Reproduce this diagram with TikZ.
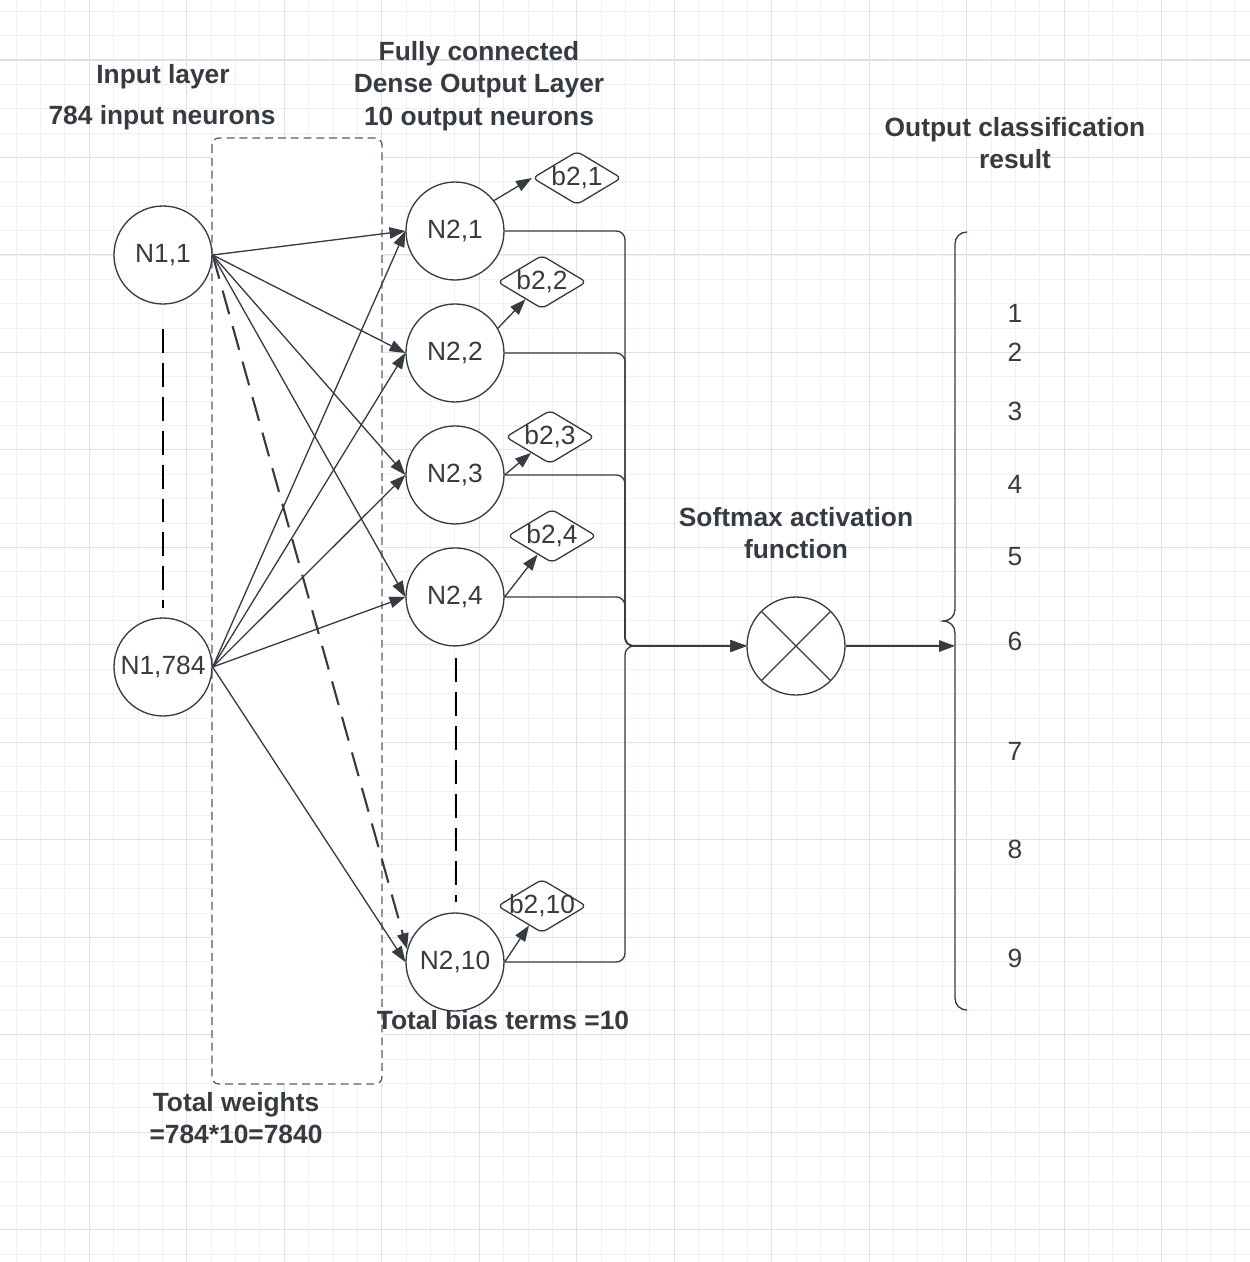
\documentclass[tikz,border=0pt]{standalone}
\usepackage{fontspec}
\setmainfont{Liberation Sans}
\usetikzlibrary{arrows.meta, shapes.geometric}

\definecolor{ink}{RGB}{54,59,66}
\definecolor{gridminor}{RGB}{240,240,240}
\definecolor{gridmajor}{RGB}{224,224,224}
\definecolor{boxgray}{RGB}{88,93,100}

\begin{document}
\begin{tikzpicture}[
            x = 0.02cm, y = -0.02cm, % one unit is one pixel
            > = {Triangle[length=9pt, width=6.5pt]}, % arrow head style
            line width = 0.75pt,
            color = ink,
            font = \fontsize{15}{18.4}\selectfont,
            node distance = 2.44cm % distance between output neurons
        ]

        \tikzstyle{neuron}=[
            circle,
            draw = ink,
            fill = white,
            minimum size = 1.96cm,
            inner sep = 0pt
        ]
        \tikzstyle{bias}=[
            diamond,
            draw = ink,
            fill = white,
            rounded corners = 3pt,
            minimum width = 1.78cm,
            minimum height = 1.07cm,
            inner sep = 0pt
        ]
        \tikzstyle{heading}=[font=\fontsize{15}{18.4}\selectfont\bfseries, align=center]
        \tikzstyle{gapline}=[black, line width=1.6pt, dash pattern=on 13.6pt off 5.7pt]
        \tikzstyle{dashlink}=[line width=1.2pt, dash pattern=on 14pt off 7pt]

        % page and grid
        \useasboundingbox (0,0) rectangle (1250,1262);
        \fill[white] (0,0) rectangle (1250,1262);
        \begin{scope}
            \clip (0,0) rectangle (1250,1262);
            \begin{scope}[shift={(-8.2,-37.5)}]
                \draw[gridminor, line width=0.5pt, step=0.4875cm] (0,1320) grid (1300,0);
                \draw[gridmajor, line width=0.6pt, step=1.95cm] (0,1320) grid (1300,0);
            \end{scope}
        \end{scope}

        % weights box
        \draw[boxgray, fill=white, line width=0.75pt, dash pattern=on 4.5pt off 2.8pt, rounded corners=4pt]
            (212,138) rectangle (382,1084);

        % labels
        \node[heading] (inlabel) at (163,77) {Input layer};
        \node[heading] (incount) at (162,118) {784 input neurons};
        \node[heading] (outlabel) at (479,86) {Fully connected\\Dense Output Layer\\10 output neurons};
        \node[heading] (reslabel) at (1015,143) {Output classification\\result};
        \node[heading] (smlabel) at (796,533) {Softmax activation\\function};
        \node[heading] (biaslabel) at (503,1020) {Total bias terms =10};
        \node[heading] (wlabel) at (236,1118) {Total weights\\=784*10=7840};

        % neurons
        \node[neuron] (n11) at (163,255) {N1,1};
        \node[neuron] (n1784) at (163,667) {N1,784};
        \node[neuron] (n21) at (455,231) {N2,1};
        \node[neuron] (n22) [below of=n21] {N2,2};
        \node[neuron] (n23) [below of=n22] {N2,3};
        \node[neuron] (n24) [below of=n23] {N2,4};
        \node[neuron] (n210) at (455,962) {N2,10};

        % bias terms
        \node[bias, label=center:{b2,1}] (b21) at (577,178) {};
        \node[bias, label=center:{b2,2}] (b22) at (542,282) {};
        \node[bias, label=center:{b2,3}] (b23) at (550,437) {};
        \node[bias, label=center:{b2,4}] (b24) at (552,536) {};
        \node[bias, label=center:{b2,10}] (b210) at (542,906) {};

        % softmax
        \node[neuron, path picture={
                \draw (path picture bounding box.north west) -- (path picture bounding box.south east)
                      (path picture bounding box.north east) -- (path picture bounding box.south west);
            }] (sm) at (796,646) {};
        \coordinate (bus) at (625,646);
        \coordinate (brace) at (955,646);

        % skipped neurons
        \draw[gapline] (163,329) -- (163,608);
        \draw[gapline] (456,658) -- (456,902);

        % weights
        \draw[->] (n11.east) -- (n21.west);
        \draw[->] (n11.east) -- (n22.west);
        \draw[->] (n11.east) -- (n23.west);
        \draw[->] (n11.east) -- (n24.west);
        \draw[->, dashlink] (n11.east) -- (n210.165);
        \draw[->] (n1784.east) -- (n21.west);
        \draw[->] (n1784.east) -- (n22.west);
        \draw[->] (n1784.east) -- (n23.west);
        \draw[->] (n1784.east) -- (n24.west);
        \draw[->] (n1784.east) -- (n210.west);

        % biases
        \draw[->] (n21.38) -- (b21.west);
        \draw[->] (n22.30) -- (b22);
        \draw[->] (n23.east) -- (b23);
        \draw[->] (n24.east) -- (b24);
        \draw[->] (n210.east) -- (b210);

        % into softmax
        \draw[->, rounded corners=5pt] (n21.east) -| (bus) -- (sm.west);
        \draw[->, rounded corners=5pt] (n22.east) -| (bus) -- (sm.west);
        \draw[->, rounded corners=5pt] (n23.east) -| (bus) -- (sm.west);
        \draw[->, rounded corners=5pt] (n24.east) -| (bus) -- (sm.west);
        \draw[->, rounded corners=5pt] (n210.east) -| (bus) -- (sm.west);
        \draw[->] (sm.east) -- (brace);

        % result brace
        \draw (967,232) .. controls (960,232) and (955,237) .. (955,244) -- (955,609)
              .. controls (955,616) and (950,621) .. (943,621)
              .. controls (950,621) and (955,626) .. (955,633) -- (955,998)
              .. controls (955,1005) and (960,1010) .. (967,1010);

        \node (c1) at (1015,313) {1};
        \node (c2) at (1015,352) {2};
        \node (c3) at (1015,411) {3};
        \node (c4) at (1015,484) {4};
        \node (c5) at (1015,557) {5};
        \node (c6) at (1015,641) {6};
        \node (c7) at (1015,751) {7};
        \node (c8) at (1015,849) {8};
        \node (c9) at (1015,958) {9};

  \end{tikzpicture}
\end{document}
